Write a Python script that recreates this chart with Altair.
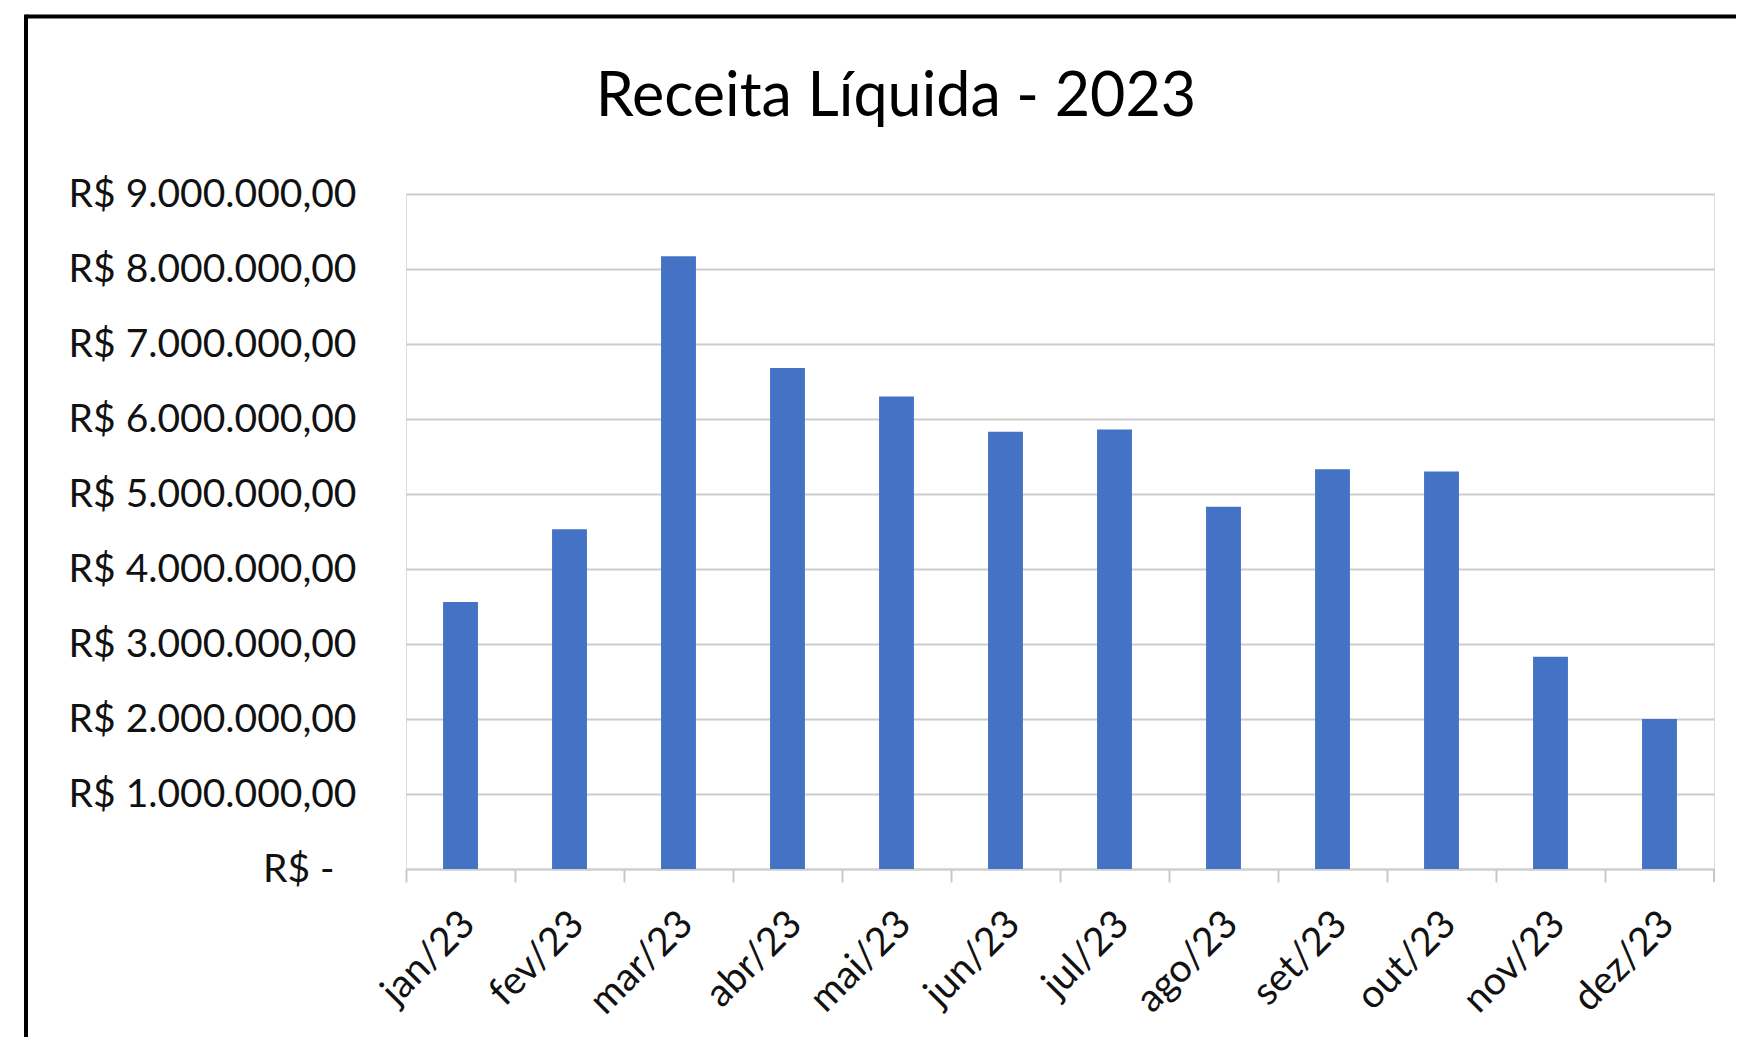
import altair as alt
import pandas as pd

# ---- data ----
meses = ["jan/23", "fev/23", "mar/23", "abr/23", "mai/23", "jun/23",
         "jul/23", "ago/23", "set/23", "out/23", "nov/23", "dez/23"]
receita = [3560000, 4530000, 8170000, 6680000, 6300000, 5830000,
           5860000, 4830000, 5330000, 5300000, 2830000, 2000000]
y_ticks = [0, 1000000, 2000000, 3000000, 4000000, 5000000,
           6000000, 7000000, 8000000, 9000000]
titulo = ["Receita Líquida - 2023"]

df = pd.DataFrame({"mes": meses, "receita": receita})
df_title = pd.DataFrame({"t": titulo})
df_one = pd.DataFrame({"k": [0]})

W, H = 1308, 675
BOTTOM = 168
FONT = "Lato"

label_expr = (
    "datum.value == 0 ? 'R$ -' : "
    "'R$ ' + format(datum.value / 1000000, 'd') + '.000.000,00'"
)

bars = alt.Chart(df).mark_bar(color="#4472C4").encode(
    x=alt.X(
        "mes:N",
        sort=meses,
        scale=alt.Scale(paddingInner=0.68, paddingOuter=0.34),
        axis=alt.Axis(
            title=None,
            labelAngle=-45,
            labelFont=FONT,
            labelFontSize=39,
            labelColor="#111111",
            labelLimit=0,
            bandPosition=0,
            tickOffset=-37,
            labelOffset=31,
            labelPadding=22,
            tickSize=13,
            tickColor="#c8c8c8",
            tickWidth=2,
            domainColor="#d0d0d0",
            domainWidth=2,
            grid=False,
        ),
    ),
    y=alt.Y(
        "receita:Q",
        scale=alt.Scale(domain=[0, 9000000], nice=False),
        axis=alt.Axis(
            title=None,
            values=y_ticks,
            labelExpr=label_expr,
            labelFont=FONT,
            labelFontSize=39,
            labelColor="#111111",
            labelLimit=0,
            labelPadding={"condition": {"test": "datum.value == 0", "value": 72},
                          "value": 50},
            ticks=False,
            domain=False,
            gridColor="#cccccc",
            gridWidth=2,
        ),
    ),
)

# tick at the right end of the category axis
end_tick = alt.Chart(df_one).mark_rule(color="#c8c8c8", strokeWidth=2).encode(
    x=alt.value(W), y=alt.value(H), y2=alt.value(H + 13)
)

# chart-area border (left and top edges, as in the screenshot)
border_top = alt.Chart(df_one).mark_rule(color="#000000", strokeWidth=4).encode(
    x=alt.value(-380), x2=alt.value(W + 30), y=alt.value(-177.5)
)
border_left = alt.Chart(df_one).mark_rule(color="#000000", strokeWidth=4).encode(
    x=alt.value(-380), y=alt.value(-179.5), y2=alt.value(H + BOTTOM + 10)
)

title = alt.Chart(df_title).mark_text(
    font=FONT, fontSize=61, color="#000000", align="center", baseline="alphabetic"
).encode(
    text="t:N", x=alt.value(490), y=alt.value(-78)
)

chart = alt.layer(bars, end_tick, border_top, border_left, title).properties(
    width=W,
    height=H,
    autosize=alt.AutoSizeParams(type="none"),
    padding={"left": 398, "top": 186, "right": 22, "bottom": BOTTOM},
).configure_view(stroke=None).configure(background="white")

chart.save("out.html", embed_options={"renderer": "svg", "actions": False})
